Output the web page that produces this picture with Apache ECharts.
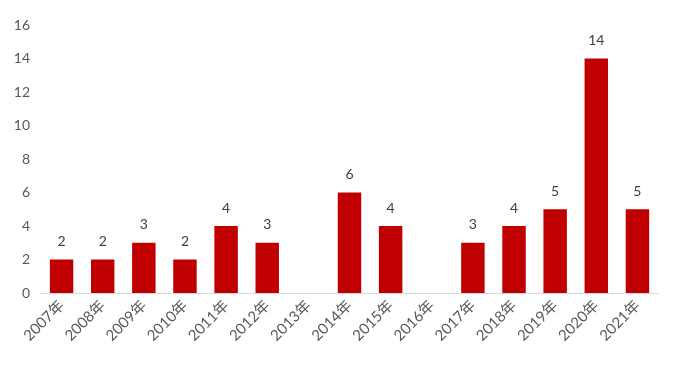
<!DOCTYPE html>
<html>
<head>
<meta charset="utf-8">
<script src="https://cdn.jsdelivr.net/npm/echarts@6/dist/echarts.min.js"></script>
<style>html,body{margin:0;padding:0;background:#fff}#c{width:680px;height:369px}</style>
</head>
<body>
<div id="c"></div>
<script>
const categories = ['2007年','2008年','2009年','2010年','2011年','2012年','2013年','2014年','2015年','2016年','2017年','2018年','2019年','2020年','2021年'];
const values = [2, 2, 3, 2, 4, 3, null, 6, 4, null, 3, 4, 5, 14, 5];
const yTicks = { min: 0, max: 16, interval: 2 };

const FONT = "Lato, 'Noto Sans CJK SC', sans-serif";
const chart = echarts.init(document.getElementById('c'), null, { renderer: 'canvas' });
chart.setOption({
  animation: false,
  grid: { left: 41, right: 22, top: 25, bottom: 76, containLabel: false },
  xAxis: {
    type: 'category',
    data: categories,
    axisLine: { show: true, lineStyle: { color: '#D9D9D9', width: 1 } },
    axisTick: { show: false },
    axisLabel: { rotate: 45, interval: 0, color: '#595959', fontSize: 15, fontFamily: FONT, margin: 10 }
  },
  yAxis: {
    type: 'value',
    min: yTicks.min, max: yTicks.max, interval: yTicks.interval,
    axisLine: { show: false },
    axisTick: { show: false },
    splitLine: { show: false },
    axisLabel: { color: '#595959', fontSize: 14, fontFamily: FONT, margin: 11 }
  },
  series: [{
    type: 'bar',
    data: values,
    barWidth: '57%',
    itemStyle: { color: '#C00000' },
    label: { show: true, position: 'top', distance: 11, color: '#404040', fontSize: 14, fontFamily: FONT }
  }]
});
</script>
</body>
</html>
